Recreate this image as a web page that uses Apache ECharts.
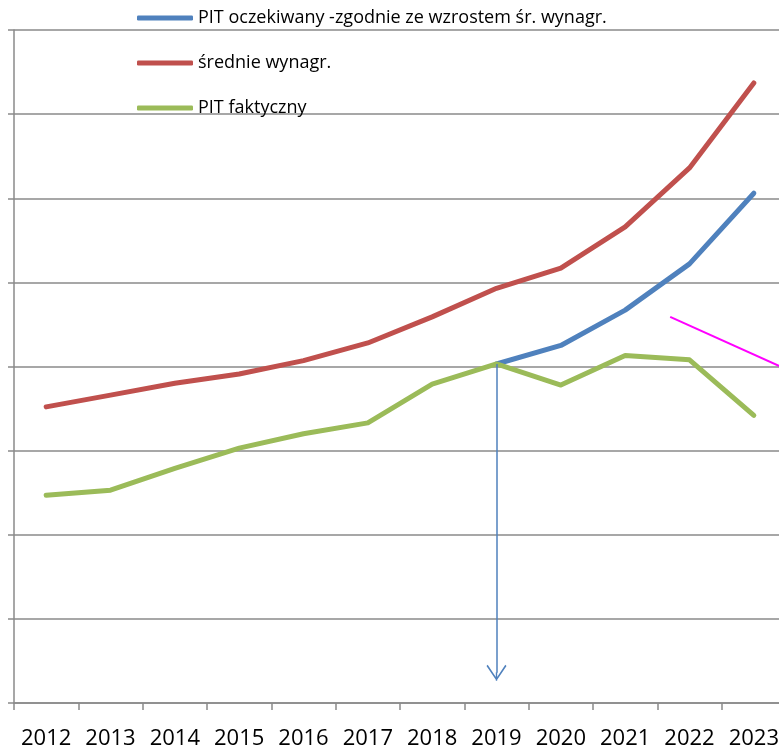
<!DOCTYPE html>
<html>
<head>
<meta charset="utf-8">
<script src="https://cdn.jsdelivr.net/npm/echarts@6/dist/echarts.min.js"></script>
<style>
html,body{margin:0;padding:0;background:#fff;}
#chart{width:779px;height:750px;}
</style>
</head>
<body>
<div id="chart"></div>
<script>
var years = ['2012','2013','2014','2015','2016','2017','2018','2019','2020','2021','2022','2023'];
var seriesNames = ['PIT oczekiwany -zgodnie ze wzrostem śr. wynagr.', 'średnie wynagr.', 'PIT faktyczny'];
var pitExpected = ['-','-','-','-','-','-','-',40.3,42.5,46.7,52.2,60.6];
var avgWage = [35.2,36.6,38.0,39.1,40.7,42.8,45.9,49.3,51.7,56.6,63.6,73.7];
var pitActual = [24.7,25.3,27.9,30.3,32.0,33.3,37.9,40.3,37.8,41.3,40.8,34.2];
var arrowFrom = ['2019', 40.3];
var arrowTo = ['2019', 3.6];
var magentaLine = [[9.70, 45.9],[11.5, 39.7]];

var chevron = 'path://M10,0 L20,14 L18.8,15.2 L10,2.6 L1.2,15.2 L0,14 Z M9.3,0 L10.7,0 L10.7,8 L9.3,8 Z';
var gridColor = '#8a8a8a';
var chart = echarts.init(document.getElementById('chart'));
chart.setOption({
  animation: false,
  backgroundColor: '#fff',
  textStyle: {fontFamily: 'Open Sans'},
  grid: {left: 14, width: 772, top: 30, bottom: 47, containLabel: false, outerBoundsMode: 'none'},
  legend: {
    data: seriesNames,
    orient: 'vertical',
    left: 137,
    top: 8,
    padding: 0,
    icon: 'roundRect',
    itemWidth: 56,
    itemHeight: 5,
    itemGap: 25,
    textStyle: {fontFamily: 'Open Sans', fontSize: 18, color: '#000', lineHeight: 20}
  },
  xAxis: [{
    type: 'category',
    data: years,
    boundaryGap: true,
    axisLine: {lineStyle: {color: gridColor, width: 1.5}},
    axisTick: {show: true, interval: 0, length: 7, lineStyle: {color: gridColor, width: 1.5}},
    axisLabel: {interval: 0, fontFamily: 'Open Sans', fontSize: 22, color: '#000', margin: 25}
  }, {
    type: 'value',
    min: -0.5,
    max: 11.5,
    show: false
  }],
  yAxis: {
    type: 'value',
    min: 0,
    max: 80,
    interval: 10,
    axisLine: {show: true, onZero: false, lineStyle: {color: gridColor, width: 1.5}},
    axisTick: {show: true, length: 6, lineStyle: {color: gridColor, width: 1.5}},
    axisLabel: {show: false},
    splitLine: {show: true, lineStyle: {color: gridColor, width: 1.5}}
  },
  series: [{
    name: seriesNames[0],
    type: 'line',
    data: pitExpected,
    symbol: 'none',
    color: '#4F81BD',
    lineStyle: {width: 5, cap: 'round', join: 'round'},
    markLine: {
      silent: true,
      symbol: ['none', chevron],
      symbolSize: [20, 16],
      label: {show: false},
      lineStyle: {color: '#4F81BD', width: 1.5, type: 'solid'},
      data: [[{coord: arrowFrom}, {coord: arrowTo}]]
    }
  }, {
    name: seriesNames[1],
    type: 'line',
    data: avgWage,
    symbol: 'none',
    color: '#C0504D',
    lineStyle: {width: 5, cap: 'round', join: 'round'}
  }, {
    name: seriesNames[2],
    type: 'line',
    data: pitActual,
    symbol: 'none',
    color: '#9BBB59',
    lineStyle: {width: 5, cap: 'round', join: 'round'}
  }, {
    name: 'magenta',
    type: 'line',
    xAxisIndex: 1,
    data: magentaLine,
    symbol: 'none',
    color: '#FF00FF',
    lineStyle: {width: 2},
    clip: false
  }]
});
</script>
</body>
</html>
